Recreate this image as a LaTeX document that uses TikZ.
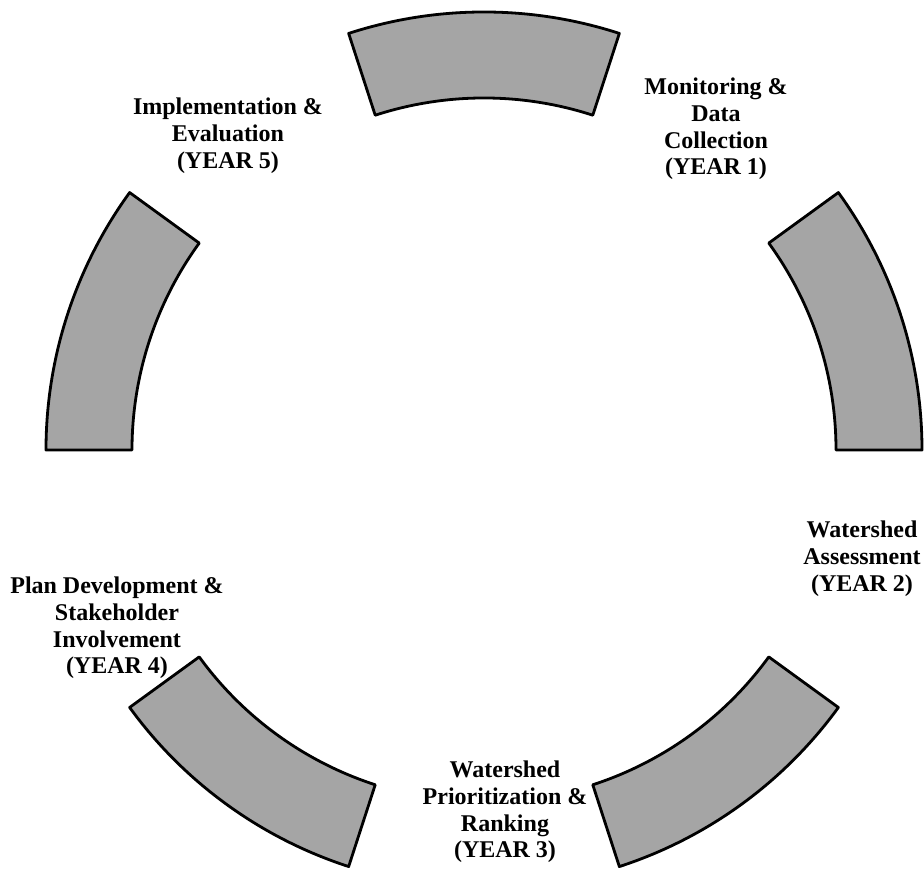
\documentclass[tikz,border=0pt]{standalone}
\usepackage{fontspec}
\setmainfont{Liberation Serif}
\usetikzlibrary{positioning}
\definecolor{SegGray}{RGB}{165, 165, 165}

\tikzset{
  segment/.style={draw=black, line width=1.4pt, fill=SegGray, line join=round},
  phase/.style={align=center, font=\fontsize{12}{13.4}\selectfont\bfseries, inner sep=0pt}
}

\begin{document}
\begin{tikzpicture}[x=0.5pt, y=0.5pt]
    \useasboundingbox (-484,-420) rectangle (440,450);
    % five shaded ring pieces, 36 degrees each
    \foreach \a in {0,72,144,216,288} {
      \draw[segment] (\a:352) arc[start angle=\a, end angle=\a+36, radius=352]
        -- (\a+36:438) arc[start angle=\a+36, end angle=\a, radius=438] -- cycle;
    }
    % the phases in the gaps
    \node[phase] (yearone) at (232,321) {Monitoring \&\\Data\\Collection\\(YEAR 1)};
    \node[phase] (yeartwo) at (378,-109) {Watershed\\Assessment\\(YEAR 2)};
    \node[phase] (yearthree) at (21,-362) {Watershed\\Prioritization \&\\Ranking\\(YEAR 3)};
    \node[phase] (yearfour) at (-367,-178) {Plan Development \&\\Stakeholder\\Involvement\\(YEAR 4)};
    \node[phase] (yearfive) at (-256,314) {Implementation \&\\Evaluation\\(YEAR 5)};
\end{tikzpicture}
\end{document}
